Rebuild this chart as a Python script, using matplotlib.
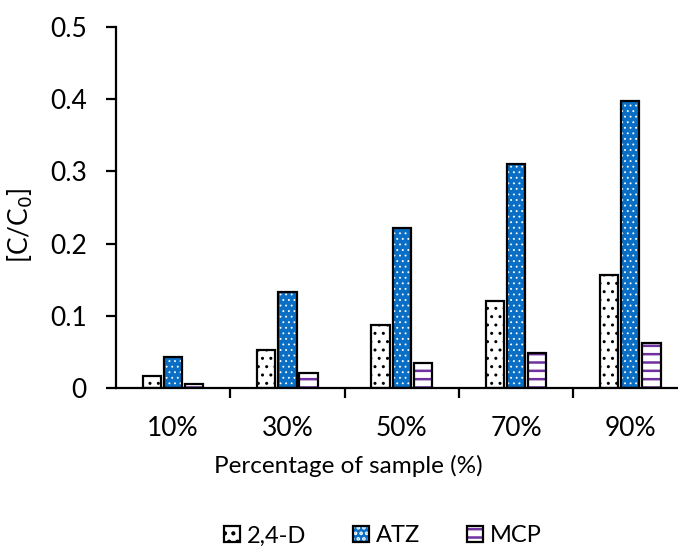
import numpy as np
import matplotlib.pyplot as plt
from matplotlib.patches import Patch

plt.rcParams['font.family'] = ['Lato', 'DejaVu Sans']

categories = ['10%', '30%', '50%', '70%', '90%']
d24 = [0.017, 0.053, 0.087, 0.120, 0.156]
atz = [0.043, 0.133, 0.222, 0.310, 0.398]
mcp = [0.006, 0.021, 0.035, 0.049, 0.062]

# name, values, fill, hatch colour, hatch, hatch line width
series = [
    ('2,4-D', d24, 'white', 'black', '..', 1.0),
    ('ATZ', atz, '#0A6FC4', 'white', '...', 0.6),
    ('MCP', mcp, 'white', '#7030A0', '--', 1.8),
]

fig = plt.figure(figsize=(6.78, 5.52), dpi=100)
ax = fig.add_axes([116 / 678, 1 - 388 / 552, 1 - 116 / 678, 361 / 552])

x = np.arange(len(categories))
w = 0.16
offsets = [-0.185, 0, 0.185]


def hatched(p, hlw):
    if hasattr(p, 'set_hatch_linewidth'):
        p.set_hatch_linewidth(hlw)


handles = []
for (name, vals, fc, hc, hatch, hlw), off in zip(series, offsets):
    plt.rcParams['hatch.linewidth'] = hlw
    # fill + hatch in its own colour, then the black outline on top
    bars = ax.bar(x + off, vals, w, color=fc, edgecolor=hc, hatch=hatch, linewidth=0)
    for b in bars:
        hatched(b, hlw)
    ax.bar(x + off, vals, w, fill=False, edgecolor='black', linewidth=1.6)
    hp = Patch(facecolor=fc, edgecolor=hc, hatch=hatch, linewidth=0)
    hatched(hp, hlw)
    handles.append((hp, Patch(fill=False, edgecolor='black', linewidth=1.6)))

ax.set_xlim(-0.5, -0.5 + (678 - 116) / 114.3)
ax.set_ylim(0, 0.5)
ax.set_yticks([0, 0.1, 0.2, 0.3, 0.4, 0.5])
ax.set_yticklabels(['0', '0.1', '0.2', '0.3', '0.4', '0.5'])
ax.set_xticks(x)
ax.set_xticklabels(categories)
ax.set_xticks(np.arange(0.5, 4, 1), minor=True)
ax.tick_params(axis='x', which='major', length=0, pad=20, labelsize=19)
ax.tick_params(axis='x', which='minor', length=7, width=1.6, direction='out')
ax.tick_params(axis='y', length=7, width=1.6, labelsize=19, pad=14)

for s in ['top', 'right']:
    ax.spines[s].set_visible(False)
for s in ['left', 'bottom']:
    ax.spines[s].set_linewidth(1.6)

ax.set_xlabel('Percentage of sample (%)', fontsize=17.5)
ax.xaxis.set_label_coords((348 - 116) / 562, (388 - 455) / 361)
ax.set_ylabel('[C/C$_0$]', fontsize=19)
ax.yaxis.set_label_coords((35 - 116) / 562, (388 - 225) / 361)

fig.legend(handles, [s[0] for s in series], loc='center', bbox_to_anchor=(0.565, 1 - 536 / 552),
           ncol=3, frameon=False, fontsize=17, handlelength=0.65, handleheight=0.65,
           handletextpad=0.3, columnspacing=2.0, borderaxespad=0, borderpad=0)

fig.savefig('out.png', dpi=100)
